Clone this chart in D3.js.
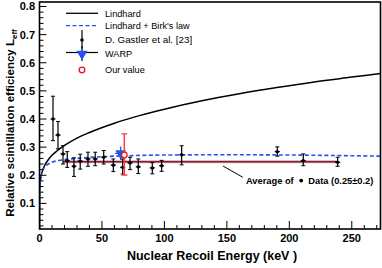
<!DOCTYPE html>
<html>
<head>
<meta charset="utf-8">
<script src="https://cdn.jsdelivr.net/npm/d3@7"></script>
<style>
  body { margin: 0; background: #fff; }
  svg { display: block; font-family: "Liberation Sans", Arial, Helvetica, sans-serif; }
</style>
</head>
<body>
<svg id="chart" width="382" height="268"></svg>
<script>
// Gastler et al. points (keV, Leff, upper and lower error ends)
const energyKeV = [10.8, 14.8, 18.8, 22.2, 27.6, 32.6, 38.8, 44.6, 51.4, 59.1, 66.6, 72.5, 79.1, 90.3, 97.8, 113.8, 190.4, 211.2, 238.7];
const leffData  = [0.400, 0.343, 0.276, 0.252, 0.232, 0.250, 0.258, 0.258, 0.264, 0.236, 0.228, 0.244, 0.230, 0.226, 0.234, 0.273, 0.284, 0.252, 0.246];
const errHigh   = [0.481, 0.391, 0.305, 0.284, 0.262, 0.275, 0.282, 0.282, 0.288, 0.258, 0.258, 0.264, 0.258, 0.245, 0.253, 0.305, 0.301, 0.276, 0.264];
const errLow    = [0.323, 0.294, 0.240, 0.228, 0.196, 0.222, 0.232, 0.234, 0.240, 0.213, 0.204, 0.220, 0.206, 0.205, 0.214, 0.237, 0.268, 0.234, 0.232];

// Lindhard curve
const lindhardE = [0, 0.1, 0.5, 1, 2, 4, 7, 10, 15, 20, 30, 40, 60, 80, 100, 130, 160, 190, 220, 250, 273];
const lindhardL = [0.009, 0.139, 0.174, 0.19, 0.211, 0.234, 0.255, 0.271, 0.29, 0.306, 0.332, 0.352, 0.385, 0.412, 0.435, 0.465, 0.49, 0.512, 0.532, 0.549, 0.562];

// Lindhard + Birk's law
const birksE = [0, 0.3, 1, 2, 4, 7, 10, 15, 20, 30, 50, 75, 100, 150, 200, 273];
const birksL = [0.009, 0.16, 0.19, 0.21, 0.228, 0.24, 0.247, 0.252, 0.256, 0.26, 0.266, 0.27, 0.272, 0.273, 0.272, 0.268];

// WARP and our value: [energy, Leff, low, high]
const warpPoint = [65.0, 0.278, 0.254, 0.302];
const warpRangeE = [60.5, 69.5];
const ourPoint = [67.9, 0.272, 0.201, 0.347];

// average of data
const avgValue = 0.248;
const avgRangeE = [19, 238];

const xTicks = [0, 50, 100, 150, 200, 250];
const yTicks = [0.1, 0.2, 0.3, 0.4, 0.5, 0.6, 0.7, 0.8];

const legendLabels = ["Lindhard", "Lindhard + Birk's law", "D. Gastler et al. [23]", "WARP", "Our value"];

const svg = d3.select("#chart");
const pLeft = 39.5, pRight = 380.5, pTop = 2, pBottom = 229;

const x = d3.scaleLinear().domain([0, 273]).range([pLeft, pRight]);
const y = d3.scaleLinear().domain([0.009, 0.816]).range([pBottom, pTop]);

const blue = "#2750f0";
const red = "#ff3b3b";

svg.append("defs").append("clipPath").attr("id", "clip")
  .append("rect").attr("x", pLeft).attr("y", pTop)
  .attr("width", pRight - pLeft).attr("height", pBottom - pTop);

const plot = svg.append("g").attr("clip-path", "url(#clip)");

// curves
const line = d3.line().x(d => x(d[0])).y(d => y(d[1])).curve(d3.curveMonotoneX);

plot.append("path")
  .attr("d", line(d3.zip(lindhardE, lindhardL)))
  .attr("fill", "none").attr("stroke", "#000").attr("stroke-width", 1.5);

plot.append("path")
  .attr("d", line(d3.zip(birksE, birksL)))
  .attr("fill", "none").attr("stroke", blue).attr("stroke-width", 1.6)
  .attr("stroke-dasharray", "4,2.5");

// average line
plot.append("line")
  .attr("x1", x(avgRangeE[0])).attr("x2", x(avgRangeE[1]))
  .attr("y1", y(avgValue)).attr("y2", y(avgValue))
  .attr("stroke", "#d9a9b2").attr("stroke-width", 3.2);
plot.append("line")
  .attr("x1", x(avgRangeE[0])).attr("x2", x(avgRangeE[1]))
  .attr("y1", y(avgValue)).attr("y2", y(avgValue))
  .attr("stroke", "#7d1f30").attr("stroke-width", 1.3);

// Gastler data
const pts = energyKeV.map((e, i) => ({ e: e, v: leffData[i], hi: errHigh[i], lo: errLow[i] }));
const g = plot.selectAll(".pt").data(pts).enter().append("g").attr("class", "pt");
g.append("line")
  .attr("x1", d => x(d.e)).attr("x2", d => x(d.e))
  .attr("y1", d => y(d.hi)).attr("y2", d => y(d.lo))
  .attr("stroke", "#000").attr("stroke-width", 1.2);
g.append("line")
  .attr("x1", d => x(d.e) - 2).attr("x2", d => x(d.e) + 2)
  .attr("y1", d => y(d.hi)).attr("y2", d => y(d.hi))
  .attr("stroke", "#000").attr("stroke-width", 1);
g.append("line")
  .attr("x1", d => x(d.e) - 2).attr("x2", d => x(d.e) + 2)
  .attr("y1", d => y(d.lo)).attr("y2", d => y(d.lo))
  .attr("stroke", "#000").attr("stroke-width", 1);
g.append("line")
  .attr("x1", d => x(d.e) - 2.5).attr("x2", d => x(d.e) + 2.5)
  .attr("y1", d => y(d.v)).attr("y2", d => y(d.v))
  .attr("stroke", "#000").attr("stroke-width", 1.2);
g.append("circle")
  .attr("cx", d => x(d.e)).attr("cy", d => y(d.v)).attr("r", 1.7)
  .attr("fill", "#000");

// WARP
plot.append("line")
  .attr("x1", x(warpPoint[0])).attr("x2", x(warpPoint[0]))
  .attr("y1", y(warpPoint[3])).attr("y2", y(warpPoint[2]))
  .attr("stroke", blue).attr("stroke-width", 1.3);
plot.append("line")
  .attr("x1", x(warpRangeE[0])).attr("x2", x(warpRangeE[1]))
  .attr("y1", y(warpPoint[1])).attr("y2", y(warpPoint[1]))
  .attr("stroke", blue).attr("stroke-width", 1.3);
plot.append("path")
  .attr("d", d3.symbol(d3.symbolTriangle, 50)())
  .attr("transform", `translate(${x(warpPoint[0])},${y(warpPoint[1])}) rotate(180)`)
  .attr("fill", blue);

// our value
plot.append("line")
  .attr("x1", x(ourPoint[0])).attr("x2", x(ourPoint[0]))
  .attr("y1", y(ourPoint[3])).attr("y2", y(ourPoint[2]))
  .attr("stroke", red).attr("stroke-width", 1.5);
[ourPoint[2], ourPoint[3]].forEach(v => {
  plot.append("line")
    .attr("x1", x(ourPoint[0]) - 3).attr("x2", x(ourPoint[0]) + 3)
    .attr("y1", y(v)).attr("y2", y(v))
    .attr("stroke", red).attr("stroke-width", 1.3);
});
plot.append("circle")
  .attr("cx", x(ourPoint[0])).attr("cy", y(ourPoint[1])).attr("r", 2.8)
  .attr("fill", "#fff").attr("stroke", "#e8141c").attr("stroke-width", 1.3);

// annotation
svg.append("line")
  .attr("x1", x(146.9)).attr("y1", y(0.233))
  .attr("x2", x(162.7)).attr("y2", y(0.193))
  .attr("stroke", "#000").attr("stroke-width", 1);
const noteY = y(0.181);
svg.append("text")
  .attr("x", x(165.3)).attr("y", noteY).attr("dy", "0.35em")
  .attr("font-size", 9.3).attr("font-weight", "bold")
  .text("Average of");
svg.append("circle")
  .attr("cx", x(209.5)).attr("cy", noteY).attr("r", 1.9)
  .attr("fill", "#000");
svg.append("text")
  .attr("x", x(215.2)).attr("y", noteY).attr("dy", "0.35em")
  .attr("font-size", 9.3).attr("font-weight", "bold")
  .text("Data (0.25\u00b10.2)");

// axes (ticks inward)
const xAxis = svg.append("g");
d3.range(0, 271, 10).forEach(t => {
  const major = t % 50 === 0;
  xAxis.append("line")
    .attr("x1", x(t)).attr("x2", x(t))
    .attr("y1", pBottom).attr("y2", pBottom - (major ? 8 : 4))
    .attr("stroke", "#000").attr("stroke-width", 1);
});
xAxis.selectAll("text").data(xTicks).enter().append("text")
  .attr("x", d => x(d)).attr("y", 241.5)
  .attr("text-anchor", "middle")
  .attr("font-size", 11).attr("font-weight", "bold")
  .text(d => d);

const yAxis = svg.append("g");
d3.range(1, 41).forEach(i => {
  const t = i * 0.02;
  const major = i % 5 === 0;
  yAxis.append("line")
    .attr("x1", pLeft).attr("x2", pLeft + (major ? 7 : 4))
    .attr("y1", y(t)).attr("y2", y(t))
    .attr("stroke", "#000").attr("stroke-width", 1);
});
yAxis.selectAll("text").data(yTicks).enter().append("text")
  .attr("x", 35).attr("y", d => y(d))
  .attr("dy", "0.36em")
  .attr("text-anchor", "end")
  .attr("font-size", 11).attr("font-weight", "bold")
  .text(d => d3.format(".1f")(d));

// frame
svg.append("rect")
  .attr("x", pLeft).attr("y", pTop)
  .attr("width", pRight - pLeft).attr("height", pBottom - pTop)
  .attr("fill", "none").attr("stroke", "#000").attr("stroke-width", 1.6);

// titles
svg.append("text")
  .attr("x", 212).attr("y", 260)
  .attr("text-anchor", "middle")
  .attr("font-size", 12.5).attr("font-weight", "bold")
  .text("Nuclear Recoil Energy (keV )");

const yTitle = svg.append("text")
  .attr("transform", "translate(13.5,123) rotate(-90)")
  .attr("text-anchor", "middle")
  .attr("font-size", 11.5).attr("font-weight", "bold");
yTitle.append("tspan").text("Relative scintillation efficiency  L");
yTitle.append("tspan").attr("font-size", 8).attr("dy", 3).text("eff");

// legend
const legY = [13.3, 25.7, 40, 53.3, 70];
const leg = svg.append("g");
leg.append("line").attr("x1", 66).attr("x2", 98).attr("y1", legY[0]).attr("y2", legY[0])
  .attr("stroke", "#000").attr("stroke-width", 1.3);
leg.append("line").attr("x1", 66).attr("x2", 98).attr("y1", legY[1]).attr("y2", legY[1])
  .attr("stroke", blue).attr("stroke-width", 1.3).attr("stroke-dasharray", "4,2.5");
leg.append("line").attr("x1", 82).attr("x2", 82).attr("y1", 30).attr("y2", 48.5)
  .attr("stroke", "#000").attr("stroke-width", 1.2);
leg.append("circle").attr("cx", 82).attr("cy", legY[2]).attr("r", 1.8).attr("fill", "#000");
leg.append("line").attr("x1", 82).attr("x2", 82).attr("y1", 46).attr("y2", 61)
  .attr("stroke", "#000").attr("stroke-width", 1.2);
leg.append("line").attr("x1", 66).attr("x2", 98).attr("y1", 52.5).attr("y2", 52.5)
  .attr("stroke", "#000").attr("stroke-width", 1.2);
leg.append("path")
  .attr("d", d3.symbol(d3.symbolTriangle, 52)())
  .attr("transform", `translate(82,${legY[3] + 0.5}) rotate(180)`)
  .attr("fill", blue);
leg.append("circle").attr("cx", 82).attr("cy", legY[4]).attr("r", 2.8)
  .attr("fill", "#fff").attr("stroke", "#e8141c").attr("stroke-width", 1.3);

leg.selectAll("text").data(legendLabels).enter().append("text")
  .attr("x", 105).attr("y", (d, i) => legY[i])
  .attr("dy", "0.35em")
  .attr("font-size", (d, i) => i === 2 ? 9.8 : 9.2)
  .text(d => d);
</script>
</body>
</html>
